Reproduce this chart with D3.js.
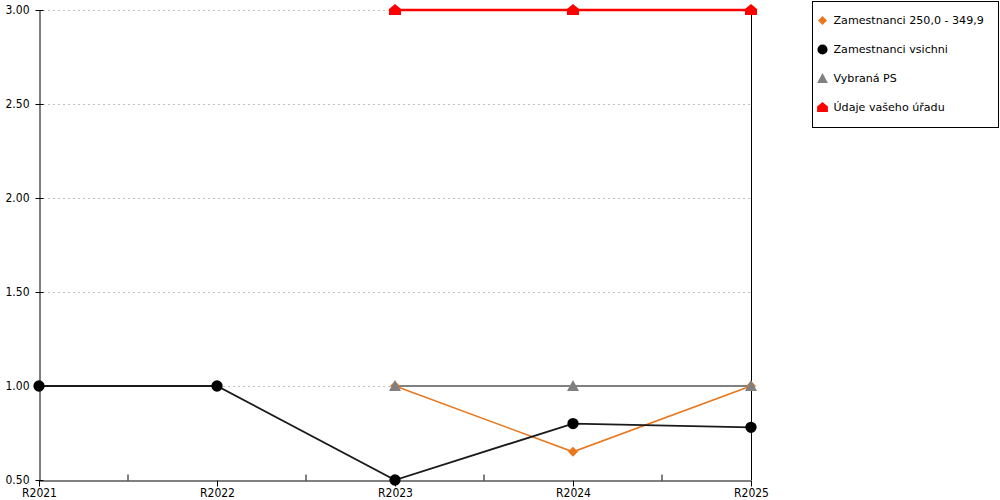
<!DOCTYPE html>
<html>
<head>
<meta charset="utf-8">
<script src="https://cdn.jsdelivr.net/npm/d3@7"></script>
<style>
    body { margin: 0; background: #fff; }
    svg { font-family: "DejaVu Sans Condensed", "DejaVu Sans", sans-serif; }
</style>
</head>
<body>
<svg id="chart" width="1000" height="500"></svg>
<script>
// categories on the x axis
const years = ["R2021", "R2022", "R2023", "R2024", "R2025"];
const yTicks = [0.5, 1.0, 1.5, 2.0, 2.5, 3.0];

// series values (null = no value)
const orangeValues = [null, null, 1.00, 0.65, 1.00];
const blackValues  = [1.00, 1.00, 0.50, 0.80, 0.78];
const grayValues   = [null, null, 1.00, 1.00, 1.00];
const redValues    = [null, null, 3.00, 3.00, 3.00];

const seriesNames = ["Zamestnanci 250,0 - 349,9", "Zamestnanci vsichni", "Vybraná PS", "Údaje vašeho úřadu"];

const series = [
    {name: seriesNames[0], values: orangeValues, color: "#e8771e", width: 1.6, marker: "diamond"},
    {name: seriesNames[1], values: blackValues,  color: "#1a1a1a", width: 1.8, marker: "circle"},
    {name: seriesNames[2], values: grayValues,   color: "#808080", width: 2.2, marker: "triangle"},
    {name: seriesNames[3], values: redValues,    color: "#ff0000", width: 2.6, marker: "house"}
];

// plot area
const margin = {top: 10, right: 249, bottom: 20, left: 39},
    width = 1000 - margin.left - margin.right,
    height = 500 - margin.top - margin.bottom;

const x = d3.scalePoint()
    .domain(years)
    .range([0, width]);

const y = d3.scaleLinear()
    .domain([0.5, 3.0])
    .range([height, 0]);

const svg = d3.select("#chart");
const g = svg.append("g")
    .attr("transform", "translate(" + margin.left + "," + margin.top + ")");

// dotted grid lines
g.selectAll(".grid")
    .data(yTicks.filter(function(d) { return d > 0.5; }))
    .enter().append("line")
    .attr("class", "grid")
    .attr("x1", 4)
    .attr("x2", width)
    .attr("y1", function(d) { return Math.round(y(d)) + 0.5; })
    .attr("y2", function(d) { return Math.round(y(d)) + 0.5; })
    .attr("stroke", "#c0c0c0")
    .attr("stroke-dasharray", "2,3");

// y axis
const yAxis = g.append("g")
    .attr("transform", "translate(0.5,0)")
    .call(d3.axisLeft(y).tickValues(yTicks).tickFormat(d3.format(".2f")).tickSize(4).tickSizeOuter(0));
yAxis.selectAll(".tick line").attr("x1", -4).attr("x2", 4);
yAxis.selectAll("text").attr("x", -10).attr("font-size", 12).attr("fill", "#000")
    .style("font-family", "'DejaVu Sans Condensed', 'DejaVu Sans', sans-serif");

// right border line
g.append("line")
    .attr("x1", width + 0.5).attr("x2", width + 0.5)
    .attr("y1", 0).attr("y2", height)
    .attr("stroke", "#000");

// x axis with minor ticks between categories
const xAxis = g.append("g")
    .attr("transform", "translate(0," + (height + 0.5) + ")")
    .call(d3.axisBottom(x).tickSize(6).tickSizeOuter(0));
xAxis.selectAll("text").attr("y", 8).attr("font-size", 12).attr("fill", "#000")
    .style("font-family", "'DejaVu Sans Condensed', 'DejaVu Sans', sans-serif");

xAxis.selectAll(".minor")
    .data(years.slice(1))
    .enter().append("line")
    .attr("class", "minor")
    .attr("x1", function(d, i) { return (x(years[i]) + x(d)) / 2; })
    .attr("x2", function(d, i) { return (x(years[i]) + x(d)) / 2; })
    .attr("y1", -6)
    .attr("y2", 0)
    .attr("stroke", "#000");

// marker shapes
function markerPath(type)
{
    if(type === "circle")
    {
        return d3.symbol().type(d3.symbolCircle).size(100)();
    }
    if(type === "diamond")
    {
        return "M0,-5L5,0L0,5L-5,0Z";
    }
    if(type === "triangle")
    {
        return "M0,-6L6,5L-6,5Z";
    }
    // house: square with a roof on top
    return "M0,-6L6,-1L6,5L-6,5L-6,-1Z";
}

const line = d3.line()
    .defined(function(d) { return d !== null; })
    .x(function(d, i) { return x(years[i]); })
    .y(function(d) { return y(d); });

// lines first, then markers
series.forEach(function(s)
{
    g.append("path")
        .datum(s.values)
        .attr("fill", "none")
        .attr("stroke", s.color)
        .attr("stroke-width", s.width)
        .attr("d", line);
});

series.forEach(function(s)
{
    g.selectAll(".m-" + s.marker)
        .data(s.values.map(function(v, i) { return {v: v, year: years[i]}; })
            .filter(function(d) { return d.v !== null; }))
        .enter().append("path")
        .attr("class", "m-" + s.marker)
        .attr("transform", function(d) { return "translate(" + x(d.year) + "," + y(d.v) + ")"; })
        .attr("d", markerPath(s.marker))
        .attr("fill", s.marker === "circle" ? "#000" : s.color);
});

// legend
const legend = svg.append("g").attr("transform", "translate(812.5,1.5)");
legend.append("rect")
    .attr("width", 186)
    .attr("height", 126)
    .attr("fill", "#fff")
    .attr("stroke", "#000");

const rowY = d3.scalePoint().domain(seriesNames).range([19, 106]);

series.forEach(function(s)
{
    const row = legend.append("g")
        .attr("transform", "translate(10," + rowY(s.name) + ")");
    row.append("path")
        .attr("d", markerPath(s.marker))
        .attr("transform", "scale(0.9)")
        .attr("fill", s.marker === "circle" ? "#000" : s.color);
    row.append("text")
        .attr("x", 11)
        .attr("dy", "0.35em")
        .attr("font-size", 11.1)
        .style("font-family", "'DejaVu Sans', sans-serif")
        .text(s.name);
});
</script>
</body>
</html>
